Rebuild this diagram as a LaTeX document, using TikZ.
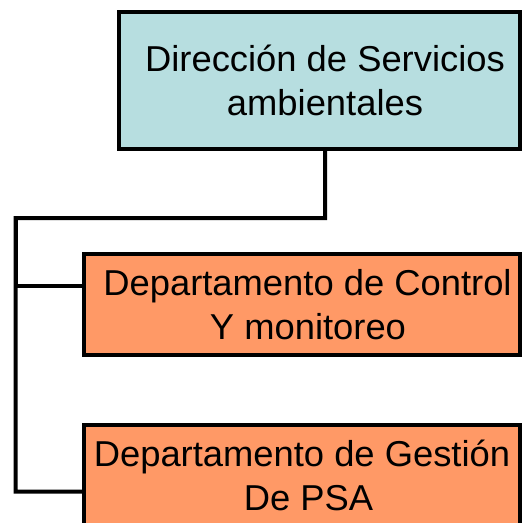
\documentclass[tikz,border=0pt]{standalone}
\usepackage{fontspec}
\setmainfont[FakeStretch=1.01]{Liberation Sans}
\definecolor{boxcyan}{RGB}{183,222,224}
\definecolor{boxorange}{RGB}{255,153,102}
\begin{document}
\begin{tikzpicture}[x=1bp,y=-1bp,
  orgbox/.style={draw=black, line width=4.3bp, inner sep=0pt, align=center,
    font=\fontsize{36bp}{44bp}\selectfont},
  conn/.style={draw=black, line width=4bp}]
\useasboundingbox (0,0) rectangle (522,523);
\clip (0,0) rectangle (522,523);
\node[orgbox, fill=boxcyan, minimum width=401bp, minimum height=137bp] (top) at (319.5,80.5)
  {\hspace*{11bp}Dirección de Servicios\\\hspace*{11bp}ambientales};
\node[orgbox, fill=boxorange, minimum width=436bp, minimum height=101bp] (b2) at (302,304.5)
  {\hspace*{11bp}Departamento de Control\\\hspace*{12bp}Y monitoreo};
\node[orgbox, fill=boxorange, minimum width=436bp, minimum height=101bp] (b3) at (302,475.5)
  {Departamento de Gestión\\\hspace*{13bp}De PSA};
\coordinate (j) at (325,218);
\coordinate (c) at (15.5,218);
\draw[conn] ([xshift=5.5bp]top.south) -- (j) -- (c) |- ([yshift=-16bp]b3.west);
\draw[conn] (c) |- ([yshift=19bp]b2.west);
\end{tikzpicture}
\end{document}
